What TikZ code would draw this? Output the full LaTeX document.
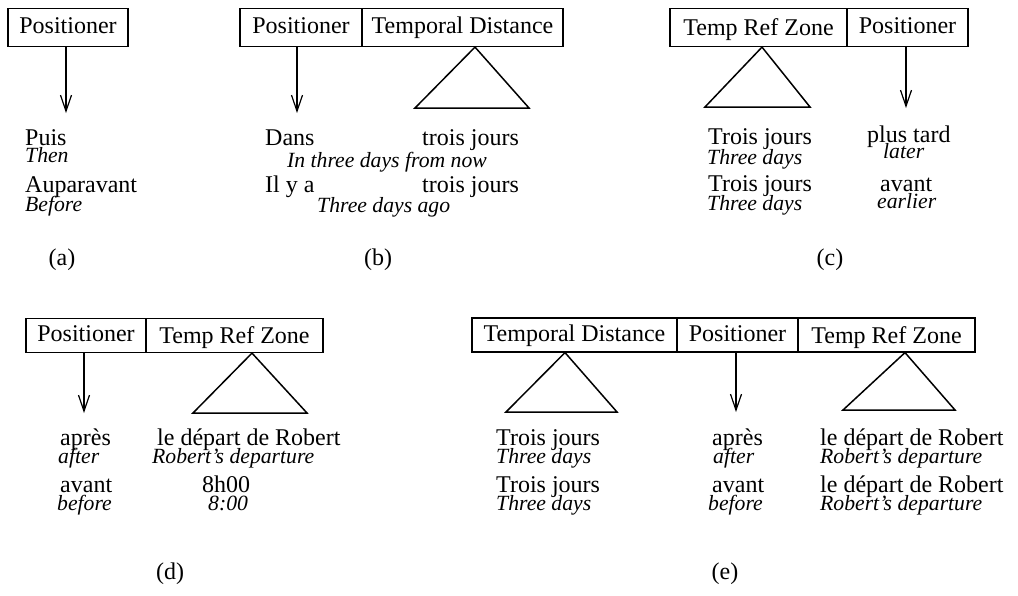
\documentclass[tikz,border=0pt]{standalone}
\usepackage{fontspec}
\setmainfont{Liberation Serif}
\usetikzlibrary{arrows.meta}
\begin{document}
\begin{tikzpicture}[x=1pt,y=-1pt,
  cat/.style={draw, line width=1.2pt, rectangle, inner sep=0pt, font=\fontsize{24}{28}\selectfont, text height=17pt, text depth=5pt},
  toprow/.style={minimum height=38pt},
  botrow/.style={minimum height=34pt},
  trz/.style={text height=19pt, text depth=3pt},
  rom/.style={anchor=mid west, inner sep=0pt, font=\fontsize{24}{28}\selectfont},
  ita/.style={anchor=mid west, inner sep=0pt, font=\fontsize{21.7}{26}\selectfont\itshape},
  lab/.style={inner sep=0pt, font=\fontsize{24}{28}\selectfont},
  arr/.style={line width=1.2pt, -{Straight Barb[length=16pt,width=11pt]}},
  tri/.style={line width=1.5pt, line join=miter}
]
\useasboundingbox (0,0) rectangle (1018,595);

% ---------- (a)
\node[cat, toprow, minimum width=120pt] (aP) at (68,27.5) {Positioner};
\coordinate (aT) at (66,113);
\draw[arr] (aP.south -| aT) -- (aT);
\node[rom] (a1) at (25,143) {Puis};
\node[ita] (a2) at (25,160) {Then};
\node[rom] (a3) at (25,190) {Auparavant};
\node[ita] (a4) at (25,209) {Before};
\node[lab] (aL) at (62,260) {(a)};

% ---------- (b)
\node[cat, toprow, minimum width=122pt] (bP) at (301,27.5) {Positioner};
\node[cat, toprow, minimum width=201pt] (bD) at (462.5,27.5) {Temporal Distance};
\coordinate (bT) at (297,113);
\draw[arr] (bP.south -| bT) -- (bT);
\coordinate (bA) at ([xshift=12.5pt]bD.south);
\coordinate (bL) at (415,108);
\coordinate (bR) at (529,108);
\draw[tri] (bA) -- (bL) -- (bR) -- cycle;
\node[rom] (b1) at (265,143) {Dans};
\node[rom] (b2) at (422,143) {trois jours};
\node[ita] (b3) at (287,165) {In three days from now};
\node[rom] (b4) at (265,190) {Il y a};
\node[rom] (b5) at (422,190) {trois jours};
\node[ita] (b6) at (317,210) {Three days ago};
\node[lab] (bLab) at (378,260) {(b)};

% ---------- (c)
\node[cat, toprow, trz, minimum width=177pt] (cZ) at (758.5,27.5) {Temp Ref Zone};
\node[cat, toprow, minimum width=121pt] (cP) at (907.5,27.5) {Positioner};
\coordinate (cA) at ([xshift=3.5pt]cZ.south);
\coordinate (cL) at (705,107);
\coordinate (cR) at (810,107);
\draw[tri] (cA) -- (cL) -- (cR) -- cycle;
\coordinate (cT) at (906,108);
\draw[arr] (cP.south -| cT) -- (cT);
\node[rom] (c1) at (708,142) {Trois jours};
\node[ita] (c2) at (707,162) {Three days};
\node[rom] (c3) at (708,189) {Trois jours};
\node[ita] (c4) at (707,208) {Three days};
\node[rom] (c5) at (867,140) {plus tard};
\node[ita] (c6) at (883,156) {later};
\node[rom] (c7) at (880,189) {avant};
\node[ita] (c8) at (877,206) {earlier};
\node[lab] (cLab) at (830,260) {(c)};

% ---------- (d)
\node[cat, botrow, minimum width=120pt] (dP) at (86,335.5) {Positioner};
\node[cat, botrow, trz, minimum width=177pt] (dZ) at (234.5,335.5) {Temp Ref Zone};
\coordinate (dT) at (84,413);
\draw[arr] (dP.south -| dT) -- (dT);
\coordinate (dA) at ([xshift=17.5pt]dZ.south);
\coordinate (dL) at (193,413);
\coordinate (dR) at (307,413);
\draw[tri] (dA) -- (dL) -- (dR) -- cycle;
\node[rom] (d1) at (60,443) {après};
\node[ita] (d2) at (58,461) {after};
\node[rom] (d3) at (60,490) {avant};
\node[ita] (d4) at (57,508) {before};
\node[rom] (d5) at (157,443) {le départ de Robert};
\node[ita] (d6) at (152,461) {Robert's departure};
\node[rom] (d7) at (202,490) {8h00};
\node[ita] (d8) at (208,508) {8:00};
\node[lab] (dLab) at (170,574) {(d)};

% ---------- (e)
\node[cat, botrow, minimum width=205pt] (eD) at (574.5,335) {Temporal Distance};
\node[cat, botrow, minimum width=121pt] (eP) at (737.5,335) {Positioner};
\node[cat, botrow, trz, minimum width=177pt] (eZ) at (886.5,335) {Temp Ref Zone};
\coordinate (eA1) at ([xshift=-9.5pt]eD.south);
\coordinate (eL1) at (506,412);
\coordinate (eR1) at (617,412);
\draw[tri] (eA1) -- (eL1) -- (eR1) -- cycle;
\coordinate (eT) at (736,412);
\draw[arr] (eP.south -| eT) -- (eT);
\coordinate (eA2) at ([xshift=18.5pt]eZ.south);
\coordinate (eL2) at (843,410);
\coordinate (eR2) at (955,410);
\draw[tri] (eA2) -- (eL2) -- (eR2) -- cycle;
\node[rom] (e1) at (496,443) {Trois jours};
\node[ita] (e2) at (496,461) {Three days};
\node[rom] (e3) at (496,490) {Trois jours};
\node[ita] (e4) at (496,508) {Three days};
\node[rom] (e5) at (712,443) {après};
\node[ita] (e6) at (713,461) {after};
\node[rom] (e7) at (712,490) {avant};
\node[ita] (e8) at (708,508) {before};
\node[rom] (e9) at (820,443) {le départ de Robert};
\node[ita] (e10) at (820,461) {Robert's departure};
\node[rom] (e11) at (820,490) {le départ de Robert};
\node[ita] (e12) at (820,508) {Robert's departure};
\node[lab] (eLab) at (725,574) {(e)};
\end{tikzpicture}
\end{document}
